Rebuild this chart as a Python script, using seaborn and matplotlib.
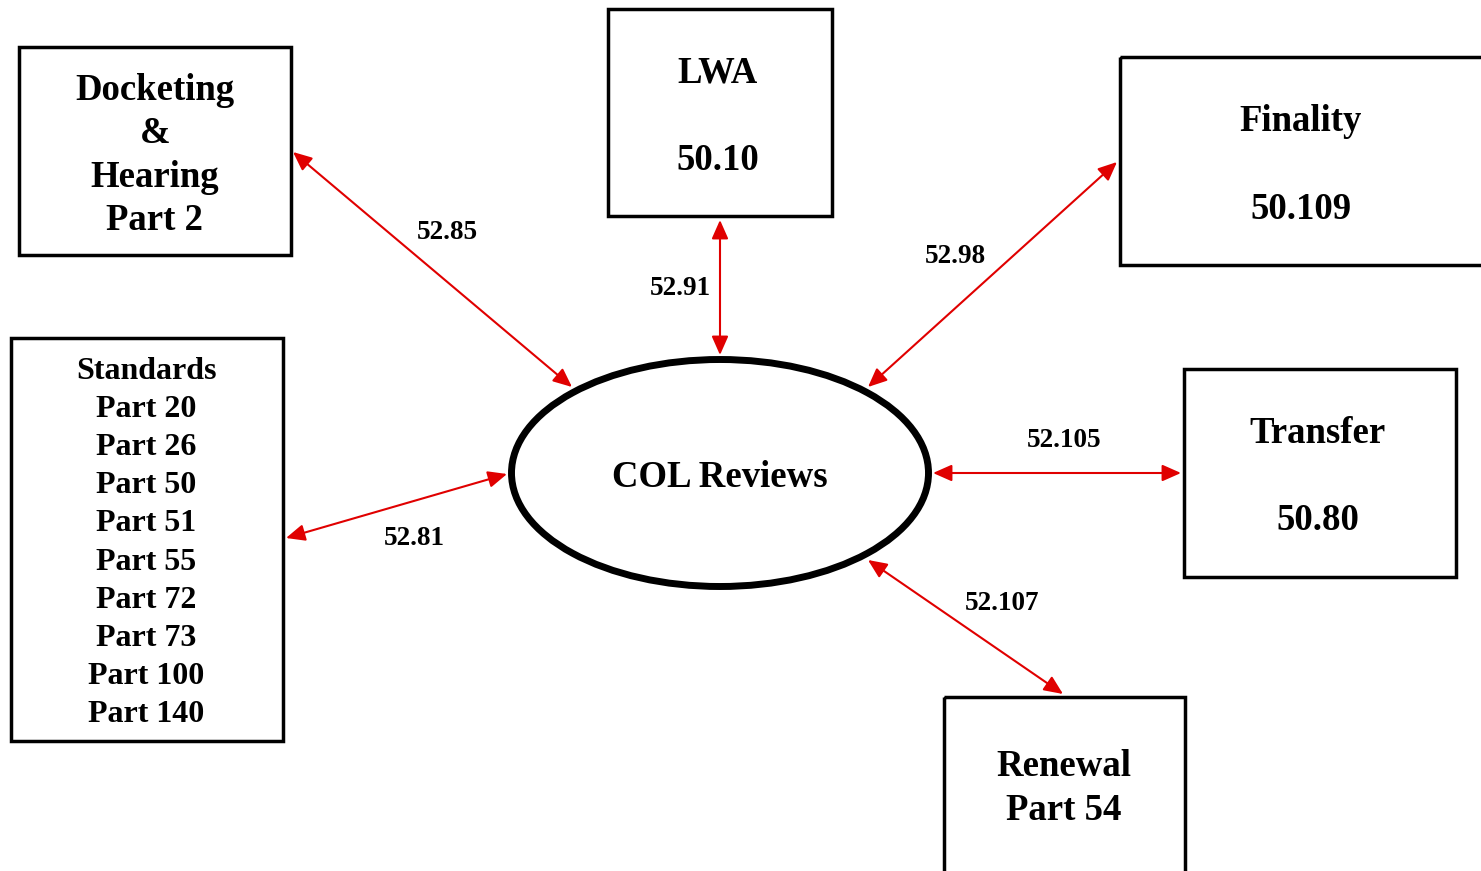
import matplotlib
matplotlib.use('Agg')
import matplotlib.pyplot as plt
import seaborn as sns
from matplotlib.patches import Rectangle, Ellipse, FancyArrowPatch

# dados do diagrama
centro = 'COL Reviews'
nos = ['Docketing', 'LWA', 'Finality', 'Standards', 'Transfer', 'Renewal']
textos = ['Docketing\n&\nHearing\nPart 2',
          'LWA\n\n50.10',
          'Finality\n\n50.109',
          'Standards\nPart 20\nPart 26\nPart 50\nPart 51\nPart 55\nPart 72\nPart 73\nPart 100\nPart 140',
          'Transfer\n\n50.80',
          'Renewal\nPart 54']
rotulos = ['52.85', '52.91', '52.98', '52.81', '52.105', '52.107']

# layout (coordenadas em pixels da imagem)
caixas = [(19, 47, 291, 255), (608, 9, 832, 216), (1120, 57, 1495, 265),
          (11, 338, 283, 741), (1184, 369, 1456, 577), (944, 697, 1185, 885)]
pos_texto = [(155, 155.5), (718, 117), (1301, 165.5), (146, 543), (1318, 477), (1064, 788.5)]
tam_texto = [26.5, 26.5, 26.5, 23, 26.5, 26.5]
espaco = [1.32, 1.33, 1.33, 1.41, 1.33, 1.32]
setas = [((293, 152), (572, 387)), ((720, 220), (720, 355)), ((1117, 162), (868, 387)),
         ((286, 538), (507, 474)), ((1181, 473), (933, 473)), ((1063, 694), (868, 560))]
pos_rotulo = [(447, 231), (680, 287), (955, 255), (414, 537), (1064, 439), (1002, 602)]

sns.set_style('white')
plt.rcParams['font.family'] = ['Liberation Serif', 'DejaVu Serif']
plt.rcParams['text.color'] = 'black'

fig = plt.figure(figsize=(14.81, 8.71), dpi=100)
ax = fig.add_axes([0, 0, 1, 1])
ax.set_xlim(0, 1481)
ax.set_ylim(871, 0)
ax.axis('off')

# elipse central
ax.add_patch(Ellipse((720, 473), 417, 227, fill=False, lw=5, ec='black'))
ax.text(720, 477, centro, ha='center', va='center', fontsize=26.5, fontweight='bold')

for (x0, y0, x1, y1), txt, (tx, ty), fs, ls in zip(caixas, textos, pos_texto, tam_texto, espaco):
    ax.add_patch(Rectangle((x0, y0), x1 - x0, y1 - y0, fill=False, lw=2.5, ec='black'))
    ax.text(tx, ty, txt, ha='center', va='center', fontsize=fs, fontweight='bold',
            linespacing=ls, multialignment='center')

for (a, b), rot, (lx, ly) in zip(setas, rotulos, pos_rotulo):
    seta = FancyArrowPatch(a, b, arrowstyle='<|-|>,head_length=0.95,head_width=0.42',
                           mutation_scale=12, color='#e00000', lw=1.5,
                           shrinkA=0, shrinkB=0)
    ax.add_patch(seta)
    ax.text(lx, ly + 1, rot, ha='center', va='center', fontsize=19.5, fontweight='bold')

fig.savefig('out.png', dpi=100, facecolor='white')
